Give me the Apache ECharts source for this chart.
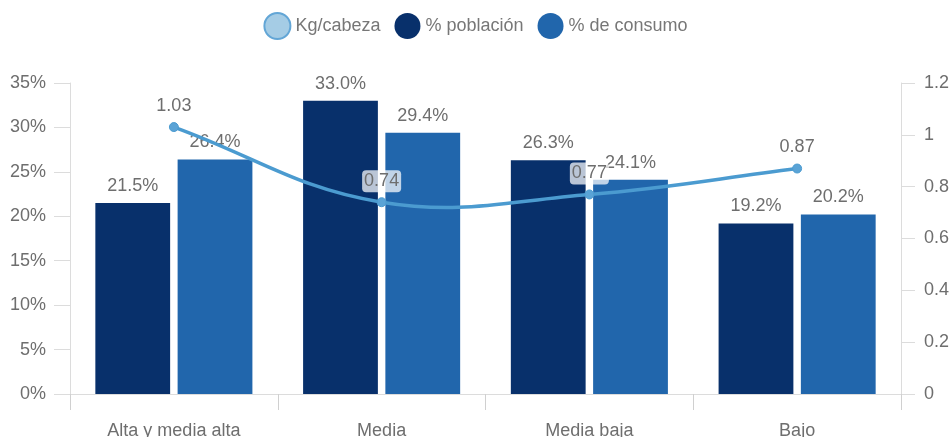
<!DOCTYPE html>
<html>
<head>
<meta charset="utf-8">
<script src="https://cdn.jsdelivr.net/npm/echarts@6/dist/echarts.min.js"></script>
<style>
  html, body { margin: 0; padding: 0; background: #fff; }
  #chart { width: 951px; height: 437px; }
</style>
</head>
<body>
<div id="chart"></div>
<script>
const categories = ['Alta y media alta', 'Media', 'Media baja', 'Bajo'];
const kgCabeza = [1.03, 0.74, 0.77, 0.87];
const pctPoblacion = [21.5, 33.0, 26.3, 19.2];
const pctConsumo = [26.4, 29.4, 24.1, 20.2];

const font = 'Liberation Sans, Arial, sans-serif';
const textColor = '#6e6e6e';
const axisColor = '#dcdcdc';
const lineColor = '#4b9bd0';
const tension = 0.4;

// spline through the points, control points like a cardinal curve
function controlPoints(pts, i) {
  const prev = pts[i - 1] || pts[i];
  const cur = pts[i];
  const next = pts[i + 1] || pts[i];
  const d01 = Math.hypot(cur[0] - prev[0], cur[1] - prev[1]);
  const d12 = Math.hypot(next[0] - cur[0], next[1] - cur[1]);
  const s01 = d01 + d12 ? d01 / (d01 + d12) : 0;
  const s12 = d01 + d12 ? d12 / (d01 + d12) : 0;
  const fa = tension * s01, fb = tension * s12;
  return {
    before: [cur[0] - fa * (next[0] - prev[0]), cur[1] - fa * (next[1] - prev[1])],
    after: [cur[0] + fb * (next[0] - prev[0]), cur[1] + fb * (next[1] - prev[1])]
  };
}

const labelBox = {
  backgroundColor: 'rgba(255,255,255,0.72)', borderRadius: 4, padding: [2, 2]
};

let chart = echarts.init(document.getElementById('chart'));
chart.setOption({
  textStyle: { fontFamily: font },
  legend: {
    top: 7,
    itemWidth: 26,
    itemHeight: 26,
    itemGap: 14,
    icon: 'circle',
    textStyle: { fontSize: 18, color: '#777', fontFamily: font },
    data: [
      { name: 'Kg/cabeza', itemStyle: { color: '#a5cce5', borderColor: '#63a6d6', borderWidth: 2 } },
      { name: '% población' },
      { name: '% de consumo' }
    ]
  },
  grid: { left: 70, right: 50, top: 83, bottom: 43, containLabel: false, outerBoundsMode: 'none' },
  xAxis: {
    type: 'category',
    data: categories,
    axisLine: { show: true, lineStyle: { color: axisColor } },
    axisTick: { show: true, length: 16, lineStyle: { color: '#d0d0d0' } },
    axisLabel: { fontSize: 18, color: textColor, margin: 28, fontFamily: font }
  },
  yAxis: [
    {
      type: 'value', min: 0, max: 35, interval: 5,
      axisLine: { show: true, lineStyle: { color: axisColor } },
      axisTick: { show: true, length: 16, lineStyle: { color: axisColor } },
      splitLine: { show: false },
      axisLabel: { formatter: '{value}%', fontSize: 18, color: textColor, margin: 24, fontFamily: font }
    },
    {
      type: 'value', min: 0, max: 1.2, interval: 0.2,
      axisLine: { show: true, lineStyle: { color: axisColor } },
      axisTick: { show: true, length: 14, lineStyle: { color: axisColor } },
      splitLine: { show: false },
      axisLabel: { fontSize: 18, color: textColor, margin: 23, fontFamily: font }
    }
  ],
  series: [
    {
      name: 'Kg/cabeza',
      type: 'line',
      yAxisIndex: 1,
      data: kgCabeza,
      symbol: 'circle',
      symbolSize: 9,
      z: 4,
      itemStyle: { color: '#5aa3d6', borderColor: lineColor, borderWidth: 1 },
      lineStyle: { width: 0, opacity: 0 },
      label: Object.assign({
        show: true, position: 'top', distance: 5,
        fontSize: 18, color: textColor, fontFamily: font
      }, labelBox)
    },
    {
      name: 'Kg/cabeza',
      type: 'custom',
      yAxisIndex: 1,
      data: kgCabeza.map((v, i) => [i, v]),
      z: 2,
      silent: true,
      renderItem(params, api) {
        const i = params.dataIndex;
        if (i >= kgCabeza.length - 1) return null;
        const pts = kgCabeza.map((v, j) => api.coord([j, v]));
        const a = controlPoints(pts, i).after;
        const b = controlPoints(pts, i + 1).before;
        return {
          type: 'bezierCurve',
          z2: 50,
          shape: {
            x1: pts[i][0], y1: pts[i][1],
            x2: pts[i + 1][0], y2: pts[i + 1][1],
            cpx1: a[0], cpy1: a[1], cpx2: b[0], cpy2: b[1]
          },
          style: { stroke: lineColor, lineWidth: 3.5, fill: null }
        };
      }
    },
    {
      name: '% población',
      type: 'bar',
      data: pctPoblacion,
      barWidth: '36%',
      barGap: '10%',
      z: 2,
      itemStyle: { color: '#08306b' },
      label: Object.assign({
        show: true, position: 'top', distance: 6,
        fontSize: 18, color: textColor, fontFamily: font,
        formatter: p => p.value.toFixed(1) + '%'
      }, labelBox)
    },
    {
      name: '% de consumo',
      type: 'bar',
      data: pctConsumo,
      barWidth: '36%',
      z: 2,
      itemStyle: { color: '#2166ac' },
      label: Object.assign({
        show: true, position: 'top', distance: 6,
        fontSize: 18, color: textColor, fontFamily: font,
        formatter: p => p.value.toFixed(1) + '%'
      }, labelBox)
    }
  ]
});
window.addEventListener('resize', () => { chart.resize(); });
</script>
</body>
</html>
